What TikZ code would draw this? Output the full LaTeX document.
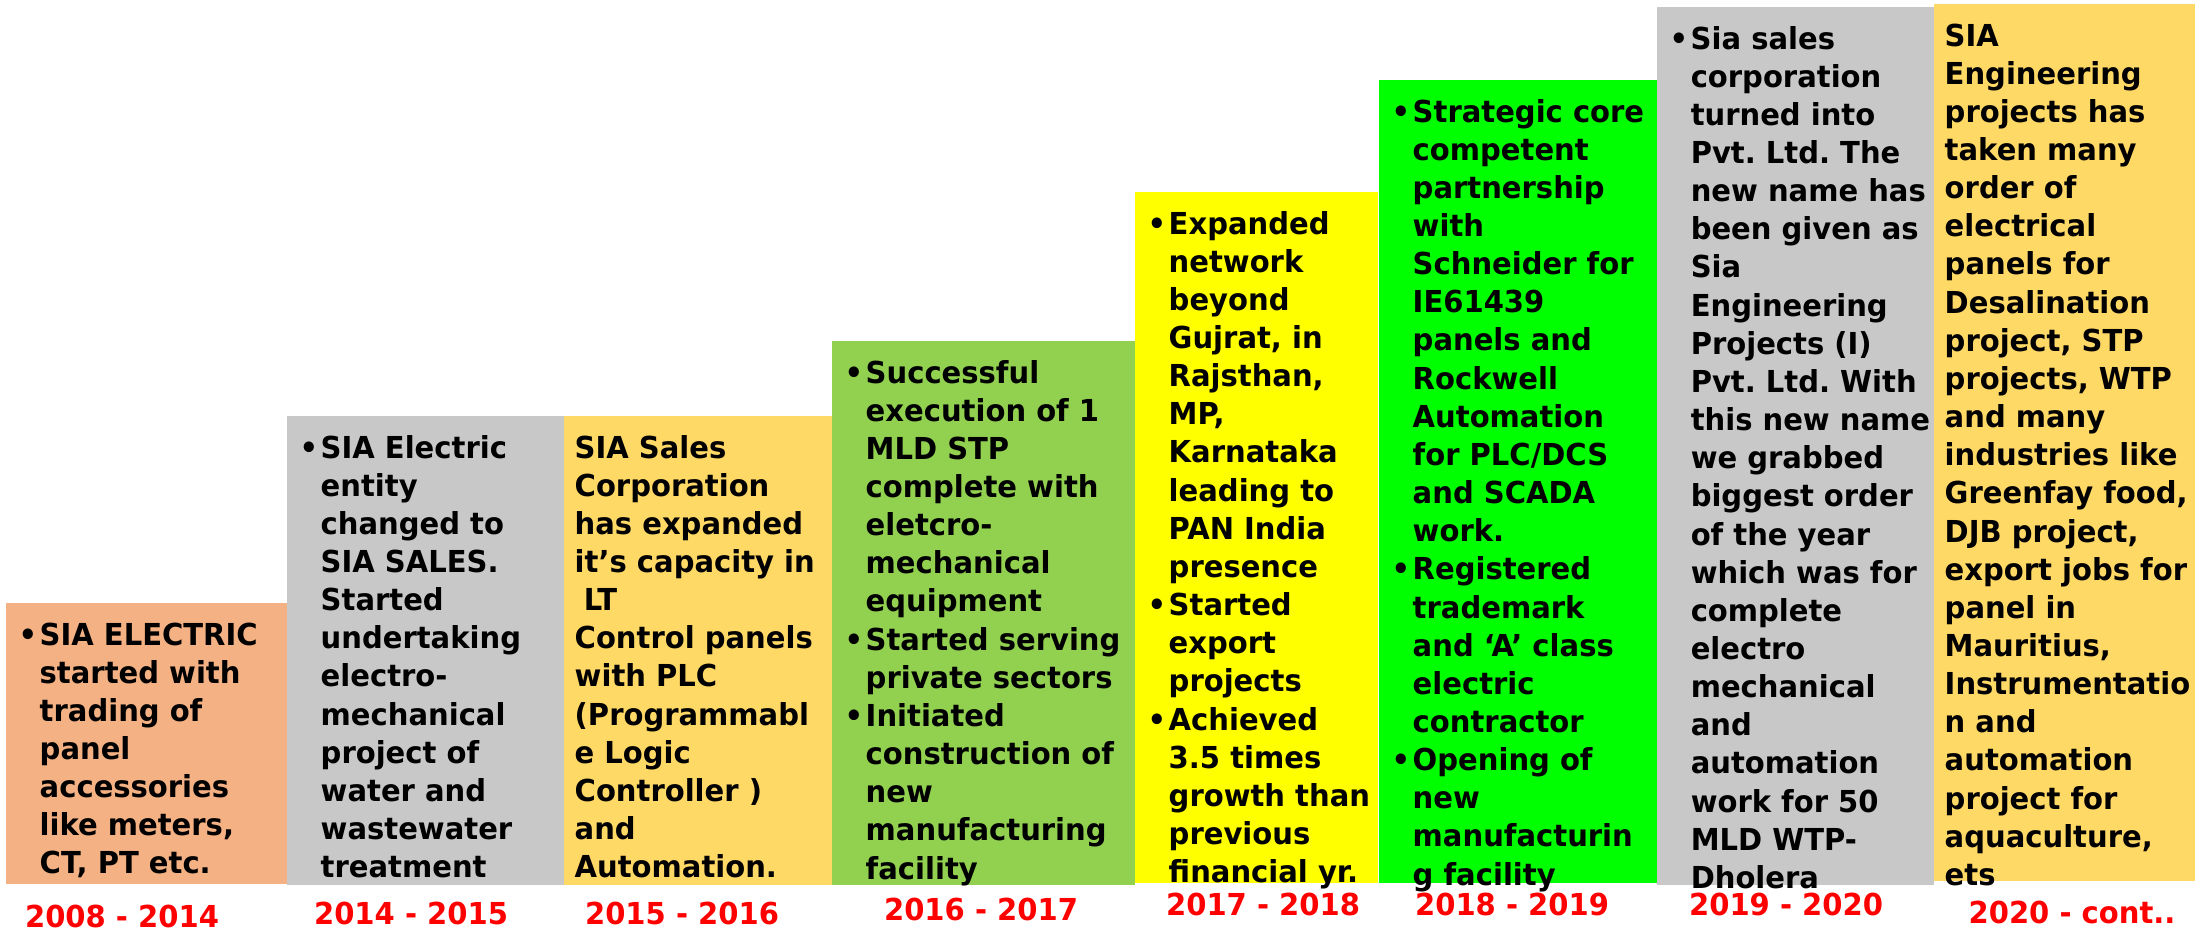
\documentclass[tikz,border=0pt]{standalone}
\usepackage{fontspec}
\setmainfont{DejaVu Sans}[FakeStretch=0.96]
\frenchspacing

\definecolor{stepsalmon}{HTML}{F4B183}
\definecolor{stepgrey}{HTML}{C8C8C8}
\definecolor{stepgold}{HTML}{FFD966}
\definecolor{stepleaf}{HTML}{92D050}
\definecolor{steplemon}{HTML}{FFFF00}
\definecolor{steplime}{HTML}{00FF00}

% bullet with hanging text
\newcommand{\bitem}{\leftskip=0.21cm\leavevmode\llap{\makebox[0.21cm][l]{\textbullet}}}

\begin{document}
\begin{tikzpicture}[x=0.01cm, y=-0.01cm,
    body/.style={anchor=base west, inner sep=0pt, text width=2.8cm, align=left,
      font=\bfseries\fontsize{8.6}{10.85}\selectfont,
      execute at begin node={\setlength{\baselineskip}{10.85pt}}},
    year/.style={text=red, inner sep=0pt, font=\bfseries\fontsize{8.6}{10}\selectfont}]
  \useasboundingbox (0,0) rectangle (2195,930);

  % the steps
  \fill[stepsalmon] (6,603) rectangle (287,884);
  \fill[stepgrey] (287,416) rectangle (564,885);
  \fill[stepgold] (564,416) rectangle (832,885);
  \fill[stepleaf] (832,341) rectangle (1135,885);
  \fill[steplemon] (1135,192) rectangle (1378,883);
  \fill[steplime] (1379,80) rectangle (1657,883);
  \fill[stepgrey] (1657,7) rectangle (1934,885);
  \fill[stepgold] (1934,4) rectangle (2195,881);

  \node[body] (t0814) at (18,645) {\bitem SIA ELECTRIC\\ started with\\ trading of\\ panel\\
    accessories\\ like meters,\\ CT, PT etc.\par};
  \node[body] (t1415) at (299,458) {\bitem SIA Electric\\ entity\\ changed to\\ SIA SALES.\\
    Started\\ undertaking\\ electro-\\ mechanical\\ project of\\ water and\\ wastewater\\ treatment\par};
  \node[body] (t1516) at (574,458) {SIA Sales\\ Corporation\\ has expanded\\ it’s capacity in\\
    \hspace*{0.3em}LT\\ Control panels\\ with PLC\\ (Programmabl\\ e Logic\\ Controller )\\ and\\ Automation.};
  \node[body] (t1617) at (844,383) {\bitem Successful\\ execution of 1\\ MLD STP\\ complete with\\
    eletcro-\\ mechanical\\ equipment\\
    \bitem Started serving\\ private sectors\\
    \bitem Initiated\\ construction of\\ new\\ manufacturing\\ facility\par};
  \node[body] (t1718) at (1147,234) {\bitem Expanded\\ network\\ beyond\\ Gujrat, in\\ Rajsthan,\\
    MP,\\ Karnataka\\ leading to\\ PAN India\\ presence\\
    \bitem Started\\ export\\ projects\\
    \bitem Achieved\\ 3.5 times\\ growth than\\ previous\\ financial yr.\par};
  \node[body] (t1819) at (1391,122) {\bitem Strategic core\\ competent\\ partnership\\ with\\
    Schneider for\\ IE61439\\ panels and\\ Rockwell\\ Automation\\ for PLC/DCS\\ and SCADA\\ work.\\
    \bitem Registered\\ trademark\\ and ‘A’ class\\ electric\\ contractor\\
    \bitem Opening of\\ new\\ manufacturin\\ g facility\par};
  \node[body] (t1920) at (1669,49) {\bitem Sia sales\\ corporation\\ turned into\\ Pvt. Ltd. The\\
    new name has\\ been given as\\ Sia\\ Engineering\\ Projects (I)\\ Pvt. Ltd. With\\
    this new name\\ we grabbed\\ biggest order\\ of the year\\ which was for\\ complete\\
    electro\\ mechanical\\ and\\ automation\\ work for 50\\ MLD WTP-\\ Dholera\par};
  \node[body] (t2020) at (1944,46) {SIA\\ Engineering\\ projects has\\ taken many\\ order of\\
    electrical\\ panels for\\ Desalination\\ project, STP\\ projects, WTP\\ and many\\
    industries like\\ Greenfay food,\\ DJB project,\\ export jobs for\\ panel in\\ Mauritius,\\
    Instrumentatio\\ n and\\ automation\\ project for\\ aquaculture,\\ ets};

  % years
  \node[year] (y0814) at (122,916) {2008 - 2014};
  \node[year] (y1415) at (411,913) {2014 - 2015};
  \node[year] (y1516) at (682,913) {2015 - 2016};
  \node[year] (y1617) at (981,909) {2016 - 2017};
  \node[year] (y1718) at (1263,904) {2017 - 2018};
  \node[year] (y1819) at (1512,904) {2018 - 2019};
  \node[year] (y1920) at (1786,904) {2019 - 2020};
  \node[year] (y2020) at (2072,912) {2020 - cont..};
\end{tikzpicture}
\end{document}
